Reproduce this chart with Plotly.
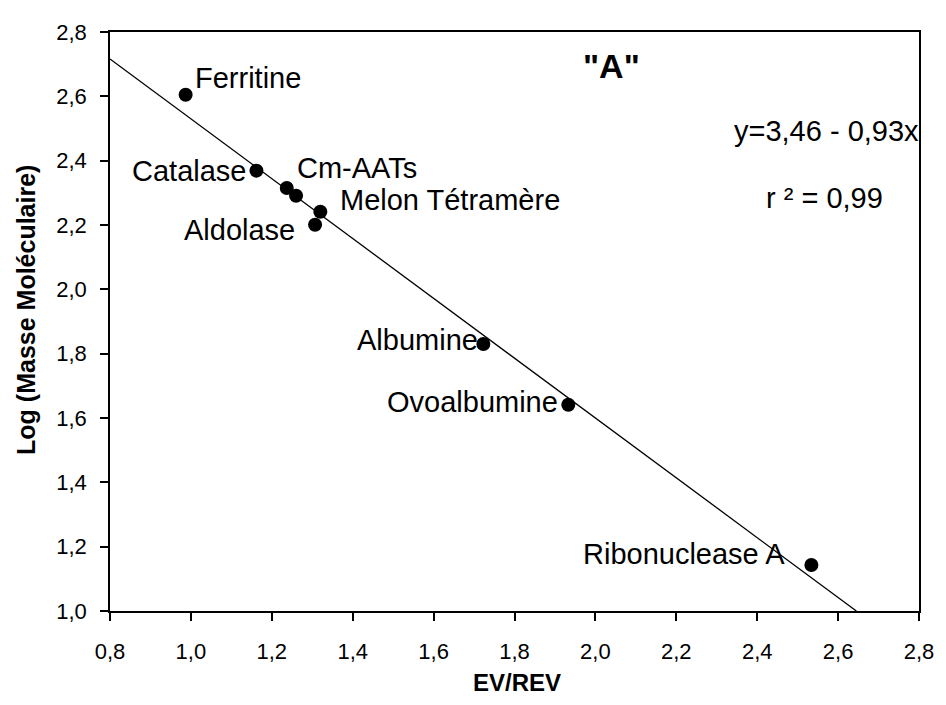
import plotly.graph_objects as go

# Calibration proteins (EV/REV vs log molecular mass)
proteins = ['Ferritine', 'Catalase', 'Cm-AATs', 'Melon Tétramère', 'Aldolase',
            'Albumine', 'Ovoalbumine', 'Ribonuclease A']
ev_rev = [0.987, 1.162, 1.237, 1.320, 1.307, 1.723, 1.933, 2.534]
log_mass = [2.605, 2.369, 2.315, 2.241, 2.201, 1.830, 1.641, 1.143]

# extra point sitting next to Cm-AATs (no label)
extra_x = [1.260]
extra_y = [2.291]

# regression line y = 3.46 - 0.93x
intercept = 3.46
slope = -0.93
line_x = [0.8, (1.0 - intercept) / slope]
line_y = [intercept + slope * x for x in line_x]

# label placement (anchor, x shift, y shift) in pixels
label_pos = {
    'Ferritine': ('left', 7, 17),
    'Catalase': ('right', -8, 0),
    'Cm-AATs': ('left', 8, 20),
    'Melon Tétramère': ('left', 18, 12),
    'Aldolase': ('right', -18, -5),
    'Albumine': ('right', -3, 4),
    'Ovoalbumine': ('right', -8, 3),
    'Ribonuclease A': ('right', -24, 11),
}

FONT = 'Liberation Sans, Arial, sans-serif'

fig = go.Figure()

fig.add_trace(go.Scatter(
    x=line_x, y=line_y, mode='lines',
    line=dict(color='black', width=1.3),
    hoverinfo='skip'
))

fig.add_trace(go.Scatter(
    x=ev_rev + extra_x, y=log_mass + extra_y, mode='markers',
    marker=dict(size=14, color='black'),
    text=proteins + ['Cm-AATs']
))

annotations = []
for name, x, y in zip(proteins, ev_rev, log_mass):
    anchor, dx, dy = label_pos[name]
    annotations.append(dict(
        x=x, y=y, xref='x', yref='y', text=name, showarrow=False,
        xanchor=anchor, yanchor='middle', xshift=dx, yshift=dy,
        font=dict(family=FONT, size=29, color='black')
    ))

annotations += [
    dict(x=0.620, y=0.941, xref='paper', yref='paper', text='<b>"A"</b>',
         showarrow=False, xanchor='center', yanchor='middle',
         font=dict(family=FONT, size=34, color='black')),
    dict(x=1.003, y=0.829, xref='paper', yref='paper', text='y=3,46 - 0,93x',
         showarrow=False, xanchor='right', yanchor='middle',
         font=dict(family=FONT, size=29, color='black')),
    dict(x=0.958, y=0.714, xref='paper', yref='paper', text='r ² = 0,99',
         showarrow=False, xanchor='right', yanchor='middle',
         font=dict(family=FONT, size=29, color='black')),
    # axis titles
    dict(x=0.503, y=0, xref='paper', yref='paper', text='<b>EV/REV</b>',
         showarrow=False, xanchor='center', yanchor='middle', yshift=-71,
         font=dict(family=FONT, size=24, color='black')),
    dict(x=0, y=0.52, xref='paper', yref='paper', text='<b>Log (Masse Moléculaire)</b>',
         showarrow=False, xanchor='center', yanchor='middle', xshift=-84,
         textangle=-90, font=dict(family=FONT, size=25, color='black')),
]

fig.update_layout(
    width=938, height=689,
    margin=dict(l=102, r=19, t=13, b=86),
    plot_bgcolor='white', paper_bgcolor='white',
    showlegend=False,
    font=dict(family=FONT, color='black', size=22),
    annotations=annotations,
    xaxis=dict(
        range=[0.8, 2.8], tick0=0.8, dtick=0.2, tickformat='.1f',
        showgrid=False, zeroline=False,
        showline=True, linecolor='black', linewidth=1.5, mirror=True,
        ticks='outside', ticklen=8, tickcolor='black', tickwidth=1.5,
        ticklabelstandoff=12,
    ),
    yaxis=dict(
        range=[1.0, 2.8], tick0=1.0, dtick=0.2, tickformat='.1f',
        showgrid=False, zeroline=False,
        showline=True, linecolor='black', linewidth=1.5, mirror=True,
        ticks='outside', ticklen=8, tickcolor='black', tickwidth=1.5,
        ticklabelstandoff=9,
    ),
    separators=', ',
)

fig.write_html("out.html")
